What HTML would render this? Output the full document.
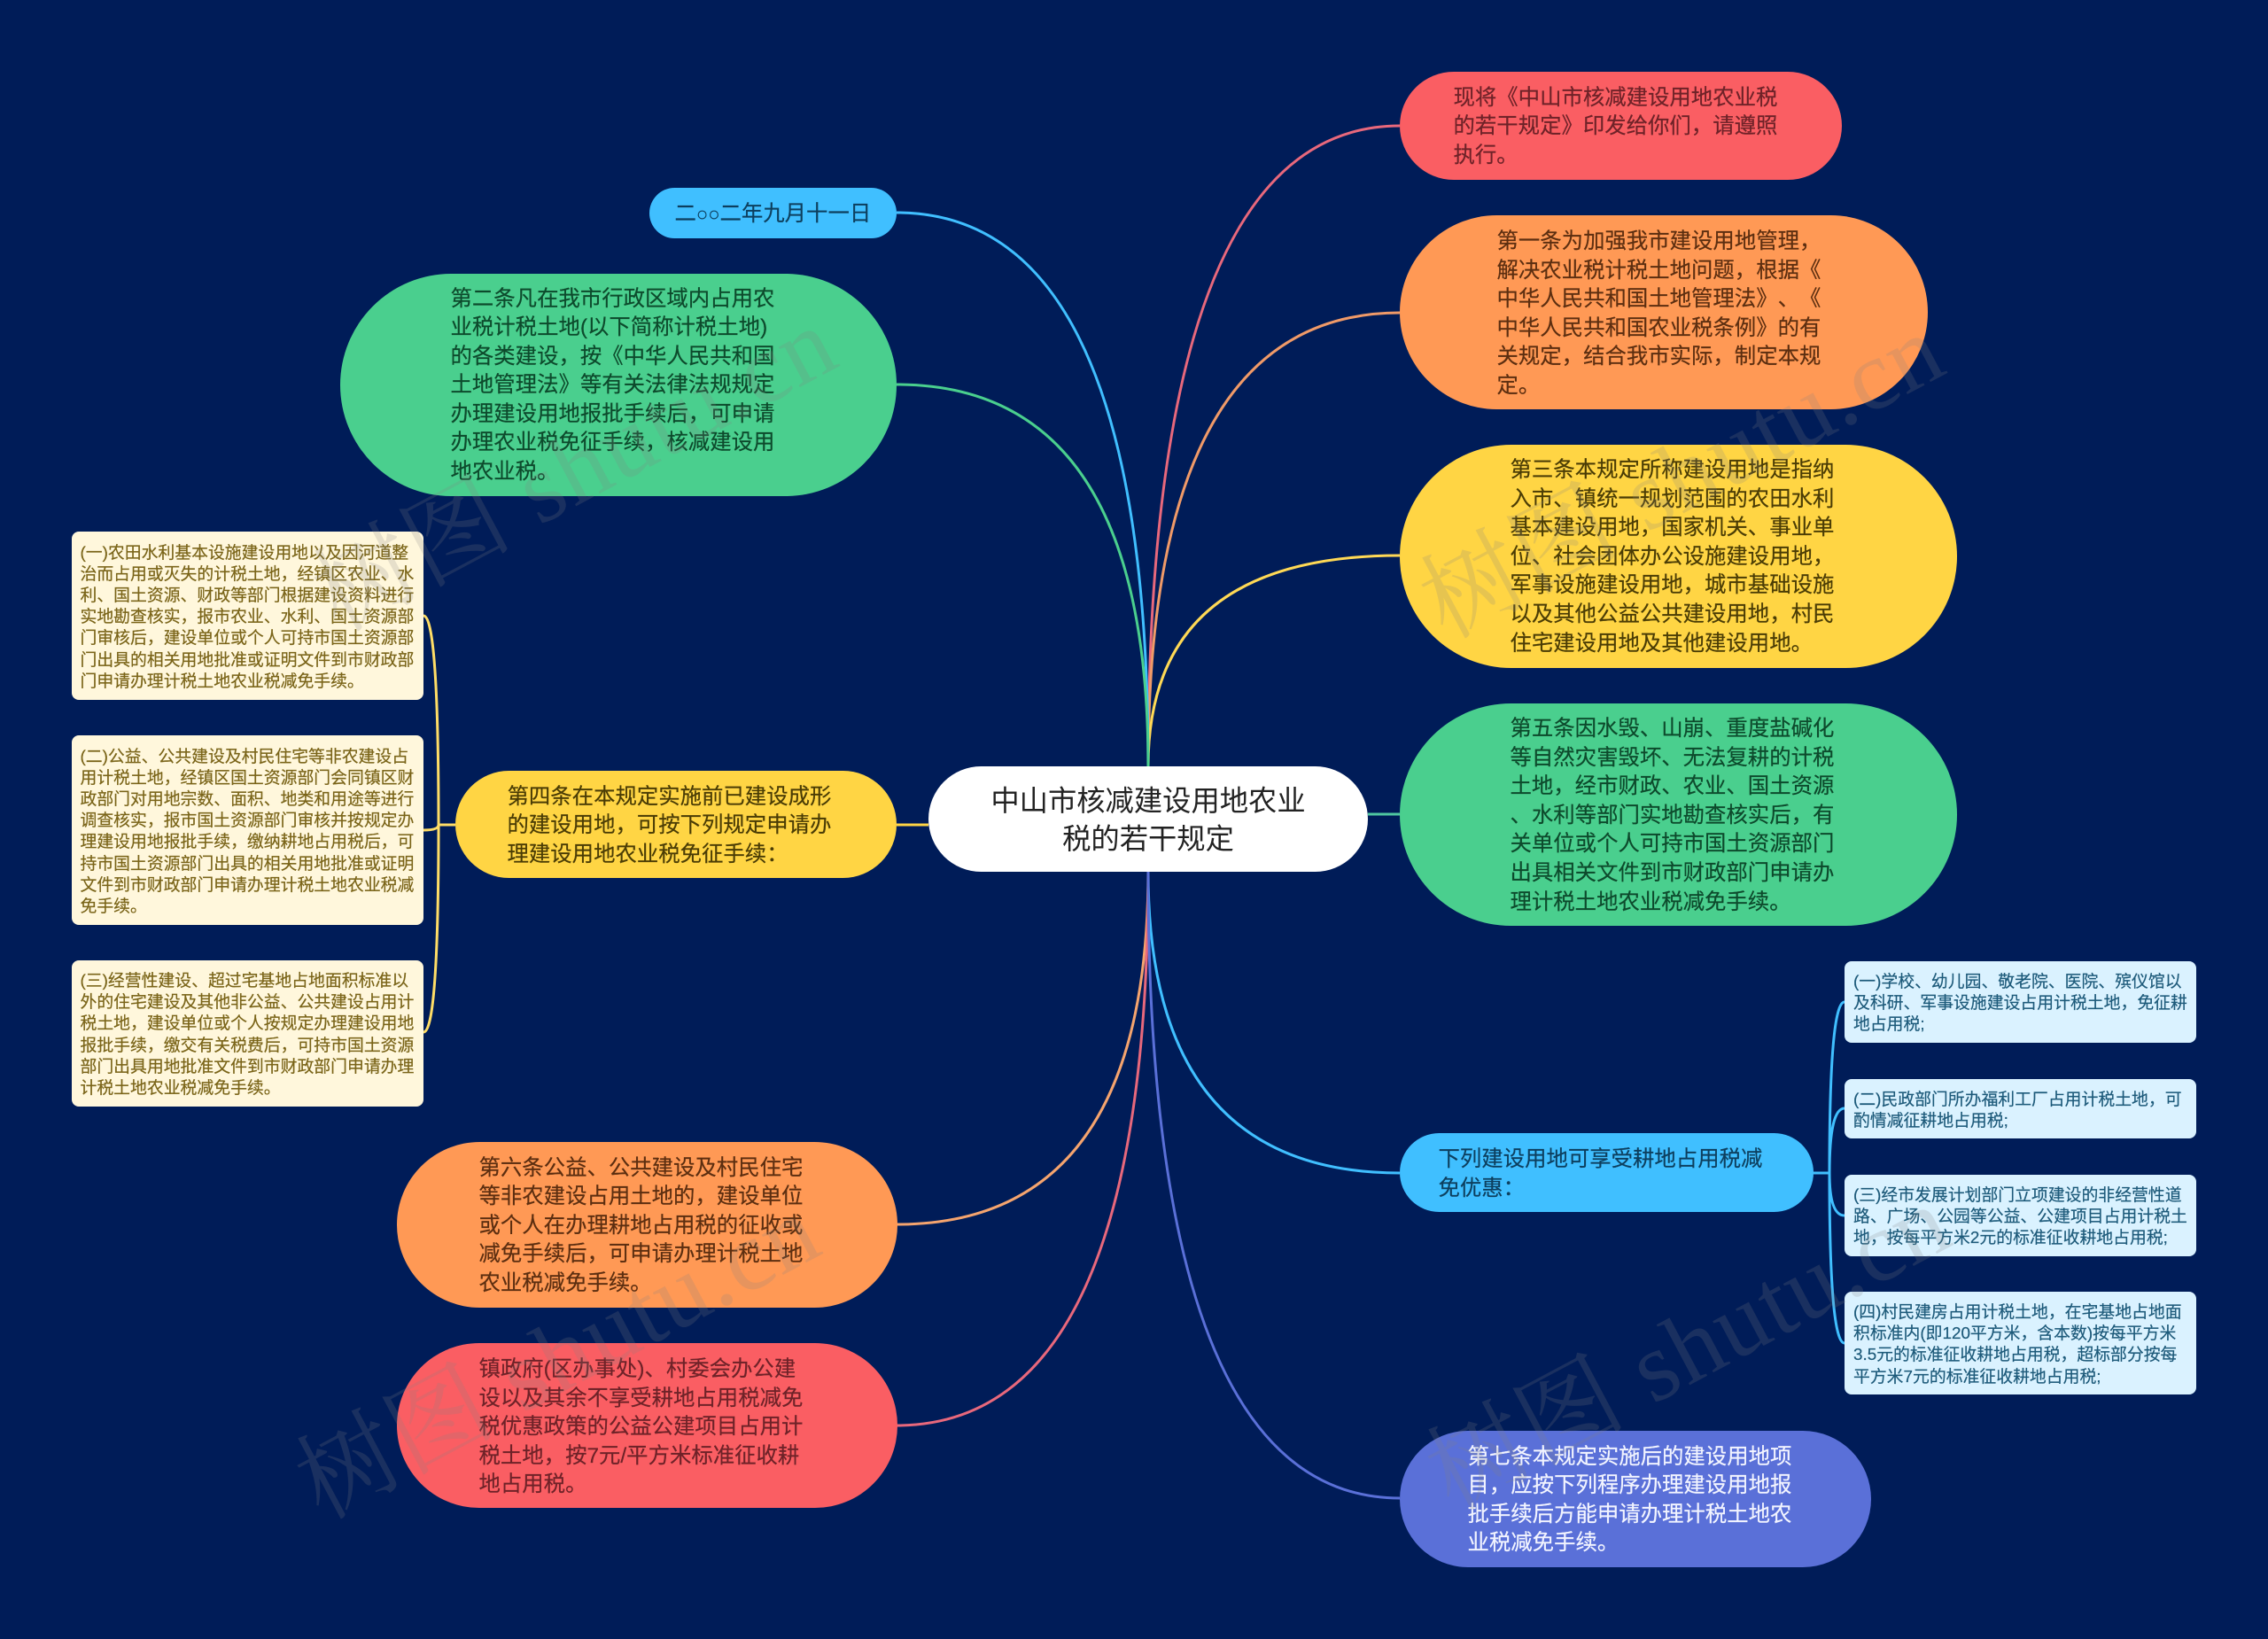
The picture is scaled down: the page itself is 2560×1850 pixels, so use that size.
<!DOCTYPE html>
<html lang="zh-CN"><head><meta charset="utf-8"><title>中山市核减建设用地农业税的若干规定</title>
<style>
html,body{margin:0;padding:0;width:2560px;height:1850px;overflow:hidden;background:#001c58}
body{position:relative;font-family:"Liberation Sans","Noto Sans CJK SC",sans-serif;text-spacing-trim:space-all}
svg{position:absolute;left:0;top:0}
.n{position:absolute;border-radius:200px}
.l{position:absolute;border-radius:8px;left:81px;width:397px}
.r{position:absolute;border-radius:8px;left:2082px;width:397px}
.l{background:#fff7dc}.r{background:#daf2ff}
.t{position:absolute;white-space:nowrap;font-size:24.4px;line-height:32.6px;margin-top:1.5px;margin-left:-.5px;-webkit-text-stroke:.2px currentColor;filter:blur(.3px)}
.s{position:absolute;white-space:nowrap;font-size:18.85px;line-height:24.2px;margin-top:1.5px;-webkit-text-stroke:.2px currentColor;filter:blur(.3px)}
</style></head><body>
<svg width="2560" height="1850" viewBox="0 0 2560 1850" fill="none" stroke-width="3">
<path d="M1296 865Q1296 142 1580 142" stroke="#e8687c"/>
<path d="M1296 865Q1296 353 1580 353" stroke="#f09a68"/>
<path d="M1296 865Q1296 627 1580 627" stroke="#ffd955"/>
<path d="M1296 865Q1296 240 1012 240" stroke="#40bfff"/>
<path d="M1296 865Q1296 434 1012 434" stroke="#4acf8e"/>
<path d="M1296 984Q1296 1382 1012 1382" stroke="#f5a46e"/>
<path d="M1296 984Q1296 1609 1012 1609" stroke="#e8687c"/>
<path d="M1296 984Q1296 1324 1580 1324" stroke="#40bfff"/>
<path d="M1296 984Q1296 1691 1580 1691" stroke="#5a70d8"/>
<path d="M1012 931H1048" stroke="#ffd544"/>
<path d="M1544 919H1580" stroke="#4fc7a0"/>
<path d="M514 931H495Q495 695 478 695M495 931Q495 1165 478 1165M495 931Q495 937 478 937" stroke="#ffdd66"/>
<path d="M2046 1324H2065Q2065 1131 2082 1131M2065 1324Q2065 1251 2082 1251M2065 1324Q2065 1372 2082 1372M2065 1324Q2065 1516 2082 1516" stroke="#40bfff"/>
</svg>

<div class="n" style="left:1048px;top:865px;width:496px;height:119px;background:#fff"></div>
<div style="position:absolute;left:1048px;top:882.5px;width:496px;text-align:center;font-size:32.3px;line-height:43.5px;color:#222">中山市核减建设用地农业<br>税的若干规定</div>

<div class="n" style="left:1580px;top:81px;width:499px;height:122px;background:#fa5e63"></div>
<div class="t" style="left:1641px;top:93px;color:#6e2228">现将《中山市核减建设用地农业税<br>的若干规定》印发给你们，请遵照<br>执行。</div>

<div class="n" style="left:1580px;top:243px;width:596px;height:219px;background:#ff9955"></div>
<div class="t" style="left:1690px;top:255.5px;color:#5c2e10">第一条为加强我市建设用地管理，<br>解决农业税计税土地问题，根据《<br>中华人民共和国土地管理法》、《<br>中华人民共和国农业税条例》的有<br>关规定，结合我市实际，制定本规<br>定。</div>

<div class="n" style="left:1580px;top:502px;width:629px;height:252px;background:#ffd544"></div>
<div class="t" style="left:1705px;top:513.5px;color:#4a3c05">第三条本规定所称建设用地是指纳<br>入市、镇统一规划范围的农田水利<br>基本建设用地，国家机关、事业单<br>位、社会团体办公设施建设用地，<br>军事设施建设用地，城市基础设施<br>以及其他公益公共建设用地，村民<br>住宅建设用地及其他建设用地。</div>

<div class="n" style="left:1580px;top:794px;width:629px;height:251px;background:#4acf8e"></div>
<div class="t" style="left:1705px;top:805.5px;color:#0d4a2c">第五条因水毁、山崩、重度盐碱化<br>等自然灾害毁坏、无法复耕的计税<br>土地，经市财政、农业、国土资源<br>、水利等部门实地勘查核实后，有<br>关单位或个人可持市国土资源部门<br>出具相关文件到市财政部门申请办<br>理计税土地农业税减免手续。</div>

<div class="n" style="left:1580px;top:1279px;width:467px;height:89px;background:#40bfff"></div>
<div class="t" style="left:1624px;top:1291.5px;color:#0d3f5e">下列建设用地可享受耕地占用税减<br>免优惠：</div>

<div class="n" style="left:1580px;top:1615px;width:532px;height:154px;background:#5a70d8"></div>
<div class="t" style="left:1657px;top:1627px;color:#f2f4ff">第七条本规定实施后的建设用地项<br>目，应按下列程序办理建设用地报<br>批手续后方能申请办理计税土地农<br>业税减免手续。</div>

<div class="n" style="left:733px;top:212px;width:279px;height:57px;background:#40bfff"></div>
<div class="t" style="left:762px;top:224px;color:#0d3f5e">二<span style="font-size:22px">○○</span>二年九月十一日</div>

<div class="n" style="left:384px;top:309px;width:628px;height:251px;background:#4acf8e"></div>
<div class="t" style="left:509px;top:320px;color:#0d4a2c">第二条凡在我市行政区域内占用农<br>业税计税土地(以下简称计税土地)<br>的各类建设，按《中华人民共和国<br>土地管理法》等有关法律法规规定<br>办理建设用地报批手续后，可申请<br>办理农业税免征手续，核减建设用<br>地农业税。</div>

<div class="n" style="left:514px;top:870px;width:498px;height:121px;background:#ffd544"></div>
<div class="t" style="left:573px;top:882px;color:#4a3c05">第四条在本规定实施前已建设成形<br>的建设用地，可按下列规定申请办<br>理建设用地农业税免征手续：</div>

<div class="n" style="left:448px;top:1289px;width:565px;height:187px;background:#ff9955"></div>
<div class="t" style="left:541px;top:1301px;color:#5c2e10">第六条公益、公共建设及村民住宅<br>等非农建设占用土地的，建设单位<br>或个人在办理耕地占用税的征收或<br>减免手续后，可申请办理计税土地<br>农业税减免手续。</div>

<div class="n" style="left:448px;top:1516px;width:565px;height:186px;background:#fa5e63"></div>
<div class="t" style="left:541px;top:1528.5px;color:#6e2228">镇政府(区办事处)、村委会办公建<br>设以及其余不享受耕地占用税减免<br>税优惠政策的公益公建项目占用计<br>税土地，按7元/平方米标准征收耕<br>地占用税。</div>

<div class="l" style="top:600px;height:190px"></div>
<div class="s" style="left:90.5px;top:610px;color:#7a6418">(一)农田水利基本设施建设用地以及因河道整<br>治而占用或灭失的计税土地，经镇区农业、水<br>利、国土资源、财政等部门根据建设资料进行<br>实地勘查核实，报市农业、水利、国土资源部<br>门审核后，建设单位或个人可持市国土资源部<br>门出具的相关用地批准或证明文件到市财政部<br>门申请办理计税土地农业税减免手续。</div>
<div class="l" style="top:830px;height:214px"></div>
<div class="s" style="left:90.5px;top:840px;color:#7a6418">(二)公益、公共建设及村民住宅等非农建设占<br>用计税土地，经镇区国土资源部门会同镇区财<br>政部门对用地宗数、面积、地类和用途等进行<br>调查核实，报市国土资源部门审核并按规定办<br>理建设用地报批手续，缴纳耕地占用税后，可<br>持市国土资源部门出具的相关用地批准或证明<br>文件到市财政部门申请办理计税土地农业税减<br>免手续。</div>
<div class="l" style="top:1084px;height:165px"></div>
<div class="s" style="left:90.5px;top:1093.5px;color:#7a6418">(三)经营性建设、超过宅基地占地面积标准以<br>外的住宅建设及其他非公益、公共建设占用计<br>税土地，建设单位或个人按规定办理建设用地<br>报批手续，缴交有关税费后，可持市国土资源<br>部门出具用地批准文件到市财政部门申请办理<br>计税土地农业税减免手续。</div>

<div class="r" style="top:1085px;height:92px"></div>
<div class="s" style="left:2092px;top:1094.5px;color:#1d5a7a">(一)学校、幼儿园、敬老院、医院、殡仪馆以<br>及科研、军事设施建设占用计税土地，免征耕<br>地占用税;</div>
<div class="r" style="top:1218px;height:67px"></div>
<div class="s" style="left:2092px;top:1227.5px;color:#1d5a7a">(二)民政部门所办福利工厂占用计税土地，可<br>酌情减征耕地占用税;</div>
<div class="r" style="top:1325.5px;height:92.5px"></div>
<div class="s" style="left:2092px;top:1335px;color:#1d5a7a">(三)经市发展计划部门立项建设的非经营性道<br>路、广场、公园等公益、公建项目占用计税土<br>地，按每平方米2元的标准征收耕地占用税;</div>
<div class="r" style="top:1458px;height:116px"></div>
<div class="s" style="left:2092px;top:1467.5px;color:#1d5a7a">(四)村民建房占用计税土地，在宅基地占地面<br>积标准内(即120平方米，含本数)按每平方米<br>3.5元的标准征收耕地占用税，超标部分按每<br>平方米7元的标准征收耕地占用税;</div>

<svg width="2560" height="1850" viewBox="0 0 2560 1850" font-family="Liberation Serif,Noto Serif CJK SC,serif" font-size="112" letter-spacing="1.5" fill="#808080" fill-opacity=".2">
<text transform="translate(382 714) rotate(-28)">树图 shutu.cn</text>
<text transform="translate(363 1716) rotate(-28)">树图 shutu.cn</text>
<text transform="translate(1632 722) rotate(-28)">树图 shutu.cn</text>
<text transform="translate(1639 1706) rotate(-28)">树图 shutu.cn</text>
</svg>
</body></html>
